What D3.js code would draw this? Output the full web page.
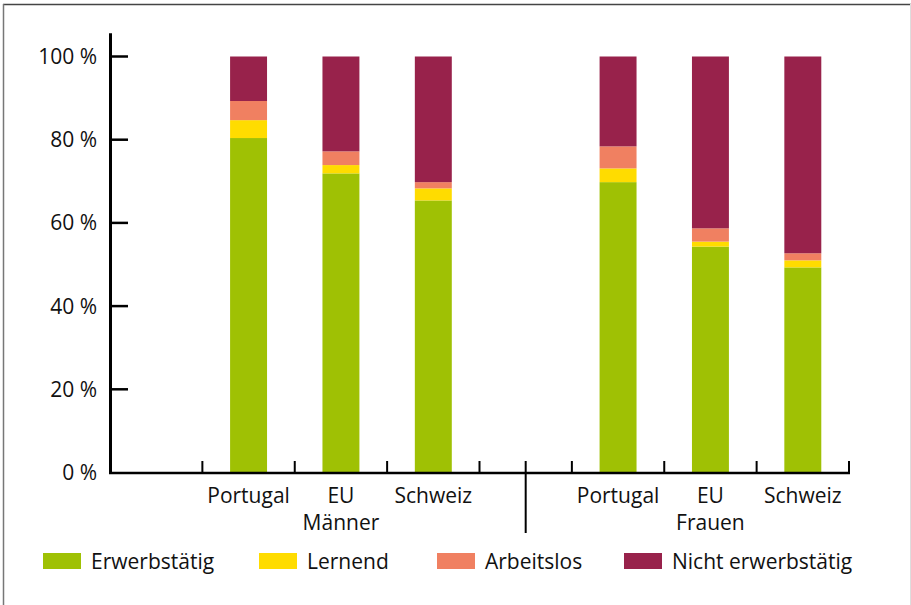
<!DOCTYPE html>
<html>
<head>
<meta charset="utf-8">
<script src="https://cdn.jsdelivr.net/npm/d3@7"></script>
<style>
  html, body { margin: 0; padding: 0; background: #fff; }
  svg { display: block; font-family: "Open Sans", "Noto Sans", sans-serif; }
</style>
</head>
<body>
<div id="chart"></div>
<script>
// chart data
const categories = ["Portugal", "EU", "Schweiz"];
const groups = ["Männer", "Frauen"];
const seriesNames = ["Erwerbstätig", "Lernend", "Arbeitslos", "Nicht erwerbstätig"];
const seriesColors = ["#9fc104", "#ffdc00", "#f08061", "#98224b"];
// order: Männer Portugal, EU, Schweiz, Frauen Portugal, EU, Schweiz
const erwerbstaetig = [80.4, 71.9, 65.4, 69.8, 54.3, 49.3];
const lernend = [4.3, 2.0, 2.9, 3.3, 1.2, 1.7];
const arbeitslos = [4.6, 3.3, 1.5, 5.3, 3.2, 1.7];
const nichtErwerbstaetig = [10.7, 22.8, 30.2, 21.6, 41.3, 47.3];
const yTicks = [0, 20, 40, 60, 80, 100];

const width = 911, height = 605;
const fontSize = 21;
const svg = d3.select("#chart").append("svg")
  .attr("width", width)
  .attr("height", height);

// frame
svg.append("line").attr("x1", 3).attr("x2", width).attr("y1", 4.5).attr("y2", 4.5)
  .attr("stroke", "#444").attr("stroke-width", 1.5);
svg.append("line").attr("x1", 3.5).attr("x2", 3.5).attr("y1", 4).attr("y2", height)
  .attr("stroke", "#777").attr("stroke-width", 1.5);
svg.append("line").attr("x1", 910.5).attr("x2", 910.5).attr("y1", 4).attr("y2", height)
  .attr("stroke", "#ddd").attr("stroke-width", 1);

// one empty slot in front of each group
const slots = [];
for (const g of groups) {
  slots.push(g + "|");
  for (const c of categories) slots.push(g + "|" + c);
}

const x = d3.scaleBand().domain(slots).range([110, 849]).padding(0);
const y = d3.scaleLinear().domain([0, 100]).range([472.5, 56.5]);
const barW = x.bandwidth() * 0.4;

// stacked data
const rows = [];
let k = 0;
for (const g of groups) {
  for (const c of categories) {
    rows.push({
      slot: g + "|" + c,
      "Erwerbstätig": erwerbstaetig[k],
      "Lernend": lernend[k],
      "Arbeitslos": arbeitslos[k],
      "Nicht erwerbstätig": nichtErwerbstaetig[k]
    });
    k++;
  }
}
const stack = d3.stack().keys(seriesNames)(rows);
const color = d3.scaleOrdinal().domain(seriesNames).range(seriesColors);

svg.append("g").selectAll("g")
  .data(stack).enter().append("g")
  .attr("fill", d => color(d.key))
  .selectAll("rect")
  .data(d => d).enter().append("rect")
  .attr("x", d => x(d.data.slot) + (x.bandwidth() - barW) / 2)
  .attr("width", barW)
  .attr("y", d => y(d[1]))
  .attr("height", d => y(d[0]) - y(d[1]));

// y axis
const axisG = svg.append("g").attr("stroke", "#000");
axisG.append("line")
  .attr("x1", 110.5).attr("x2", 110.5)
  .attr("y1", y(105.6)).attr("y2", 474)
  .attr("stroke-width", 3);
axisG.selectAll(".ytick").data(yTicks.filter(t => t > 0)).enter().append("line")
  .attr("x1", 110).attr("x2", 128)
  .attr("y1", d => y(d)).attr("y2", d => y(d))
  .attr("stroke-width", 2.5);
svg.selectAll(".ylab").data(yTicks).enter().append("text")
  .attr("x", 97).attr("y", d => y(d))
  .attr("dy", "0.36em")
  .attr("text-anchor", "end")
  .attr("font-size", fontSize)
  .attr("fill", "#111")
  .text(d => d + " %");

// x axis
const baseY = 473;
axisG.append("line")
  .attr("x1", 109).attr("x2", 850)
  .attr("y1", baseY).attr("y2", baseY)
  .attr("stroke-width", 2.5);
axisG.selectAll(".xtick").data(slots).enter().append("line")
  .attr("x1", d => x(d) + x.bandwidth()).attr("x2", d => x(d) + x.bandwidth())
  .attr("y1", baseY - 12).attr("y2", baseY)
  .attr("stroke-width", 2);
// separator between the groups
axisG.selectAll(".sep").data(slots.filter((d, i) => i > 0 && d.endsWith("|"))).enter().append("line")
  .attr("x1", d => x(d) + x.bandwidth() / 2).attr("x2", d => x(d) + x.bandwidth() / 2)
  .attr("y1", baseY - 12).attr("y2", 533)
  .attr("stroke-width", 2);

// category labels
svg.selectAll(".xlab").data(slots.filter(d => !d.endsWith("|"))).enter().append("text")
  .attr("x", d => x(d) + x.bandwidth() / 2)
  .attr("y", 503)
  .attr("text-anchor", "middle")
  .attr("font-size", fontSize)
  .attr("fill", "#111")
  .text(d => d.split("|")[1]);

// group labels under the middle category
svg.selectAll(".glab").data(groups).enter().append("text")
  .attr("x", g => x(g + "|" + categories[1]) + x.bandwidth() / 2)
  .attr("y", 530)
  .attr("text-anchor", "middle")
  .attr("font-size", fontSize)
  .attr("fill", "#111")
  .text(g => g);

// legend
const legendX = [43, 259, 437, 624];
const legend = svg.selectAll(".leg").data(seriesNames).enter().append("g")
  .attr("transform", (d, i) => `translate(${legendX[i]}, 553)`);
legend.append("rect")
  .attr("width", 38).attr("height", 16)
  .attr("fill", d => color(d));
legend.append("text")
  .attr("x", 48).attr("y", 15.5)
  .attr("font-size", fontSize)
  .attr("fill", "#111")
  .text(d => d);
</script>
</body>
</html>
